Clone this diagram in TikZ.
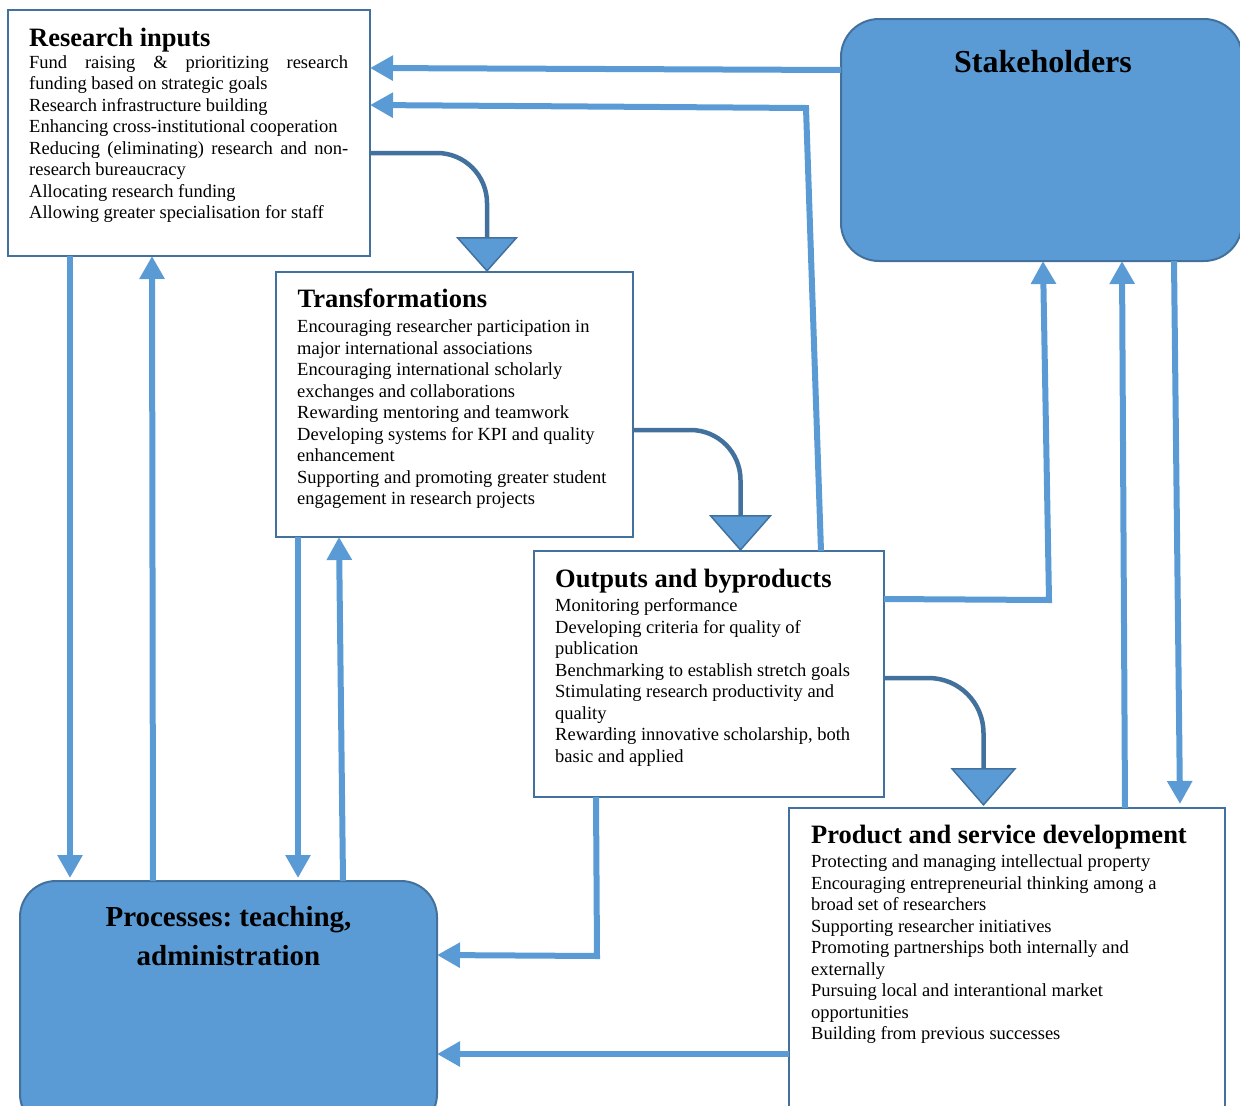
\documentclass[tikz,border=0pt]{standalone}
\usepackage{fontspec}
\setmainfont{Liberation Serif}
\usetikzlibrary{arrows.meta}
\definecolor{lblue}{RGB}{91,155,213}
\definecolor{dblue}{RGB}{65,113,156}
\newcommand{\justline}[1]{\leavevmode\hbox to 319pt{#1}}
\begin{document}
\begin{tikzpicture}[x=1pt,y=-1pt,
  box/.style={draw=dblue, line width=2pt, fill=white, rectangle, inner sep=0pt, outer sep=0pt, anchor=north west},
  rbox/.style={box, fill=lblue, rounded corners=38pt},
  conn/.style={lblue, line width=6pt, -{Triangle[length=23pt,width=24pt]}},
  curv/.style={dblue, line width=4.5pt, rounded corners=50pt},
  ttl/.style={anchor=base west, inner sep=0pt, font=\fontsize{26.5}{30}\selectfont\bfseries},
  natsp/.style={execute at begin node={\spaceskip=0pt\xspaceskip=0pt\frenchspacing}},
  bodytext/.style={anchor=base west, inner sep=0pt, text width=380pt, align=left, natsp, font=\fontsize{18.5}{21.5}\selectfont}]
\useasboundingbox (0,0) rectangle (1240,1106);
\clip (0,0) rectangle (1240,1106);

% boxes
\node[box, minimum width=362pt, minimum height=246pt] (ri) at (8,10) {};
\node[box, minimum width=357pt, minimum height=265pt] (tr) at (276,272) {};
\node[box, minimum width=350pt, minimum height=246pt] (ou) at (534,551) {};
\node[box, minimum width=436pt, minimum height=312pt] (pd) at (789,808) {};
\node[rbox, minimum width=401pt, minimum height=242pt] (sh) at (841,19) {};
\node[rbox, rounded corners=36pt, minimum width=417pt, minimum height=249pt] (pr) at (20,881) {};

% texts
\node[ttl] (rit) at (29,46) {Research inputs};
\node[bodytext] (rib) at (29,68.3) {\justline{Fund\hfill raising\hfill \&\hfill prioritizing\hfill research}\\
funding based on strategic goals\\
Research infrastructure building\\
Enhancing cross-institutional cooperation\\
\justline{Reducing\hfill (eliminating)\hfill research\hfill and\hfill non-}\\
research bureaucracy\\
Allocating research funding\\
Allowing greater specialisation for staff};

\node[ttl] (trt) at (297.5,307.7) {Transformations};
\node[bodytext] (trb) at (297,332.7) {Encouraging researcher participation in\\
major international associations\\
Encouraging international scholarly\\
exchanges and collaborations\\
Rewarding mentoring and teamwork\\
Developing systems for KPI and quality\\
enhancement\\
Supporting and promoting greater student\\
engagement in research projects};

\node[ttl] (out) at (555,587.7) {Outputs and byproducts};
\node[bodytext] (oub) at (555,611.7) {Monitoring performance\\
Developing criteria for quality of\\
publication\\
Benchmarking to establish stretch goals\\
Stimulating research productivity and\\
quality\\
Rewarding innovative scholarship, both\\
basic and applied};

\node[ttl] (pdt) at (811,843.3) {Product and service development};
\node[bodytext] (pdb) at (811,867.5) {Protecting and managing intellectual property\\
Encouraging entrepreneurial thinking among a\\
broad set of researchers\\
Supporting researcher initiatives\\
Promoting partnerships both internally and\\
externally\\
Pursuing local and interantional market\\
opportunities\\
Building from previous successes};

\node[anchor=base, inner sep=0pt, font=\fontsize{32}{36}\selectfont\bfseries] (sht) at (1043,72.7) {Stakeholders};
\node[anchor=base, inner sep=0pt, text width=400pt, align=center, natsp, font=\fontsize{29}{38.3}\selectfont\bfseries] (prt) at (228.5,926.7) {Processes:\hspace{0.25em}teaching,\\ administration};

% curved dark connectors
\draw[curv, -{Triangle[length=35pt,width=62pt,fill=lblue,line width=1.5pt]}]
  ([yshift=-143pt]ri.north east) -| ([xshift=211pt]tr.north west);
\draw[curv, -{Triangle[length=36pt,width=63pt,fill=lblue,line width=1.5pt]}]
  ([yshift=-158pt]tr.north east) -| ([xshift=206.5pt]ou.north west);
\draw[curv, rounded corners=55pt, -{Triangle[length=38pt,width=66pt,fill=lblue,line width=1.5pt]}]
  ([yshift=-127pt]ou.north east) -| ([xshift=194.5pt,yshift=2pt]pd.north west);

% light connectors
\coordinate (b2) at (806,108);
\coordinate (b3) at (1049,600);
\coordinate (b10) at (597,956);
\draw[conn] ([yshift=-51pt]sh.north west) -- ([yshift=-58pt]ri.north east);
\draw[conn] ([xshift=287pt]ou.north west) -- (b2) -- ([yshift=-95pt]ri.north east);
\draw[conn] ([yshift=-48pt]ou.north east) -- (b3) -- ([xshift=202pt]sh.south west);
\draw[conn] ([xshift=336pt]pd.north west) -- ([xshift=281pt]sh.south west);
\draw[conn] ([xshift=333pt]sh.south west) -- ([xshift=391pt,yshift=4pt]pd.north west);
\draw[conn] ([xshift=62pt]ri.south west) -- ([xshift=50pt,yshift=3pt]pr.north west);
\draw[conn] ([xshift=133pt]pr.north west) -- ([xshift=144pt]ri.south west);
\draw[conn] ([xshift=22pt]tr.south west) -- ([xshift=278pt,yshift=3pt]pr.north west);
\draw[conn] ([xshift=323pt]pr.north west) -- ([xshift=63pt]tr.south west);
\draw[conn] ([xshift=62pt]ou.south west) -- (b10) -- ([yshift=-74pt]pr.north east);
\draw[conn] ([yshift=-246pt]pd.north west) -- ([yshift=-173pt]pr.north east);
\end{tikzpicture}
\end{document}
